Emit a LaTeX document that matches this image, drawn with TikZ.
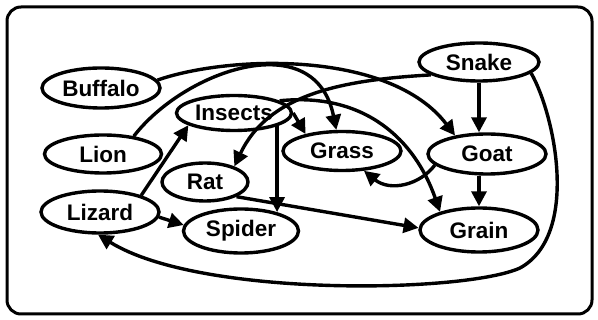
\documentclass[tikz,border=0pt]{standalone}
\usepackage{fontspec}
\setmainfont{Liberation Sans}
\usetikzlibrary{shapes.geometric,arrows.meta}
\begin{document}
\begin{tikzpicture}[x=1pt,y=-1pt,
  animal/.style={ellipse,draw,line width=3.4pt,inner sep=0pt,font=\fontsize{22.5}{24}\selectfont\bfseries},
  arr/.style={line width=3.4pt,-{Triangle[length=15pt,width=15pt]}},
  frame/.style={line width=3pt,rounded corners=14pt}]
\useasboundingbox (0,0) rectangle (598,320);
\draw[frame] (7,7) rectangle (592,314);
\node[animal,minimum width=118pt,minimum height=40pt] (Buffalo) at (101,88) {Buffalo};
\node[animal,minimum width=117pt,minimum height=38pt] (Lion) at (103,154) {Lion};
\node[animal,minimum width=118pt,minimum height=42pt] (Lizard) at (100,212) {Lizard};
\node[animal,minimum width=115pt,minimum height=35pt] (Insects) at (234,113) {Insects};
\node[animal,minimum width=86pt,minimum height=38pt] (Rat) at (205,182) {Rat};
\node[animal,minimum width=115pt,minimum height=44pt] (Spider) at (241,231) {Spider};
\node[animal,minimum width=118pt,minimum height=39pt] (Grass) at (342,151) {Grass};
\node[animal,minimum width=118pt,minimum height=40pt] (Goat) at (487,154) {Goat};
\node[animal,minimum width=120pt,minimum height=38pt] (Snake) at (479,62) {Snake};
\node[animal,minimum width=118pt,minimum height=44pt] (Grain) at (479,230) {Grain};
\coordinate (bend) at (520,268);
% edges
\draw[arr] (Buffalo.8) .. controls (230,55) and (390,50) .. (Goat.150);
\draw[arr] (Lion.30) .. controls (185,70) and (315,25) .. (Grass.105);
\draw[arr] (Snake.195) .. controls (340,80) and (268,95) .. (Rat.28);
\draw[arr] (Insects.15) .. controls (365,92) and (415,140) .. (Grain.155);
\draw[arr] (Insects.0) -- (Grass.155);
\draw[arr] (Insects.-17) -- (Insects.-17 |- Spider.28);
\draw[arr] (Lizard.22) -- (Insects.195);
\draw[arr] (Lizard.-5) -- (Spider.174);
\draw[arr] (Rat.-25) -- (Grain.178);
\draw[arr] (Snake.south) -- (Snake.south |- Goat.north);
\draw[arr] (Grain.north |- Goat.south) -- (Grain.north);
\draw[arr] (Goat.192) .. controls (420,185) and (390,192) .. (Grass.-42);
\draw[arr] (Snake.-12) .. controls (555,115) and (580,235) .. (bend)
  .. controls (465,293) and (200,298) .. (Lizard.-95);
\end{tikzpicture}
\end{document}
